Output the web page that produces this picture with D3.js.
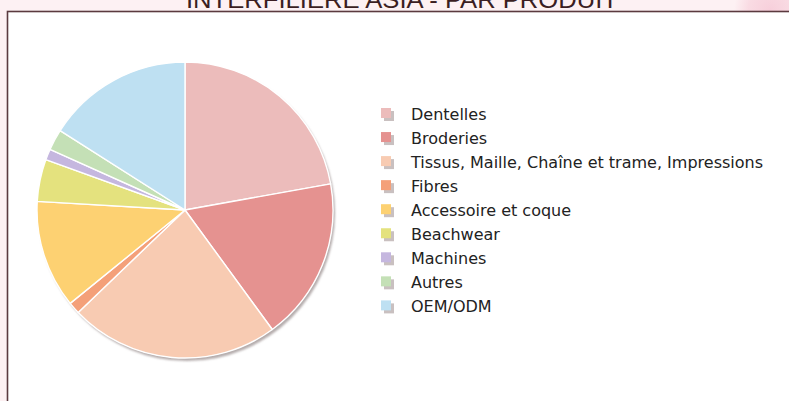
<!DOCTYPE html>
<html>
<head>
<meta charset="utf-8">
<script src="https://cdn.jsdelivr.net/npm/d3@7"></script>
<style>
html,body{margin:0;padding:0;background:#fdf1f3;overflow:hidden;}
svg{display:block;}
</style>
</head>
<body>
<svg id="chart" width="789" height="401"></svg>
<script>
const title = "INTERFILIERE ASIA - PAR PRODUIT";
const categories = ["Dentelles","Broderies","Tissus, Maille, Chaîne et trame, Impressions","Fibres","Accessoire et coque","Beachwear","Machines","Autres","OEM/ODM"];
const values = [22.2, 17.8, 22.9, 1.3, 11.8, 4.6, 1.2, 2.3, 16.0];
const colors = ["#ecbcbb","#e59290","#f8cbb2","#f4a079","#fdd172","#e4e27e","#c5b7df","#c4e0b6","#bee0f2"];

const svg = d3.select("#chart");
const W = 789, H = 401;

const defs = svg.append("defs");
const rg = defs.append("radialGradient").attr("id","blob");
rg.append("stop").attr("offset","0%").attr("stop-color","#f7cfdb");
rg.append("stop").attr("offset","60%").attr("stop-color","#f9dbe3");
rg.append("stop").attr("offset","100%").attr("stop-color","#fdf1f3");
const f = defs.append("filter").attr("id","shadow").attr("x","-10%").attr("y","-10%").attr("width","130%").attr("height","130%");
f.append("feDropShadow").attr("dx",2).attr("dy",3).attr("stdDeviation",1.2).attr("flood-color","#8c8080").attr("flood-opacity",0.65);
const f2 = defs.append("filter").attr("id","blur1");
f2.append("feGaussianBlur").attr("stdDeviation",0.7);

// background decoration
svg.append("rect").attr("x",0).attr("y",0).attr("width",W).attr("height",H).attr("fill","#fdf1f3");
svg.append("circle").attr("cx",770).attr("cy",10).attr("r",36).attr("fill","url(#blob)");

// title (clipped at top, as in the original)
svg.append("text").attr("x",186).attr("y",7.5)
  .attr("font-family","Liberation Sans, Arial, sans-serif").attr("font-size",23)
  .attr("fill","#3b1e22").attr("textLength",432).attr("lengthAdjust","spacingAndGlyphs")
  .text(title);

// frame
svg.append("rect").attr("x",7.5).attr("y",11.5).attr("width",W+20).attr("height",H+20)
  .attr("fill","#ffffff").attr("stroke","#5b3a3f").attr("stroke-width",1.6);

// pie
const cx = 185, cy = 210, r = 148;
const pie = d3.pie().sort(null).value(d => d.v);
const arc = d3.arc().innerRadius(0).outerRadius(r);
const data = categories.map((c,i)=>({c, v: values[i], col: colors[i]}));
const g = svg.append("g").attr("transform",`translate(${cx},${cy})`);
g.append("circle").attr("r",r).attr("fill","#ffffff").attr("filter","url(#shadow)");
g.selectAll("path").data(pie(data)).join("path")
  .attr("d",arc).attr("fill",d=>d.data.col)
  .attr("stroke","#ffffff").attr("stroke-width",1.4).attr("stroke-linejoin","round");

// legend
const lx = 381, ly = 114, step = 24.05;
const lg = svg.append("g");
const rows = lg.selectAll("g").data(data).join("g")
  .attr("transform",(d,i)=>`translate(${lx},${ly + i*step})`);
rows.append("rect").attr("x",3).attr("y",-3).attr("width",10).attr("height",10)
  .attr("fill","#c9c0c0").attr("filter","url(#blur1)");
rows.append("rect").attr("x",0).attr("y",-6).attr("width",10).attr("height",10)
  .attr("fill",d=>d.col);
rows.append("text").attr("x",30).attr("y",5.5)
  .attr("font-family","'DejaVu Sans', sans-serif").attr("font-size",16)
  .attr("fill","#222222").text(d=>d.c);
</script>
</body>
</html>
